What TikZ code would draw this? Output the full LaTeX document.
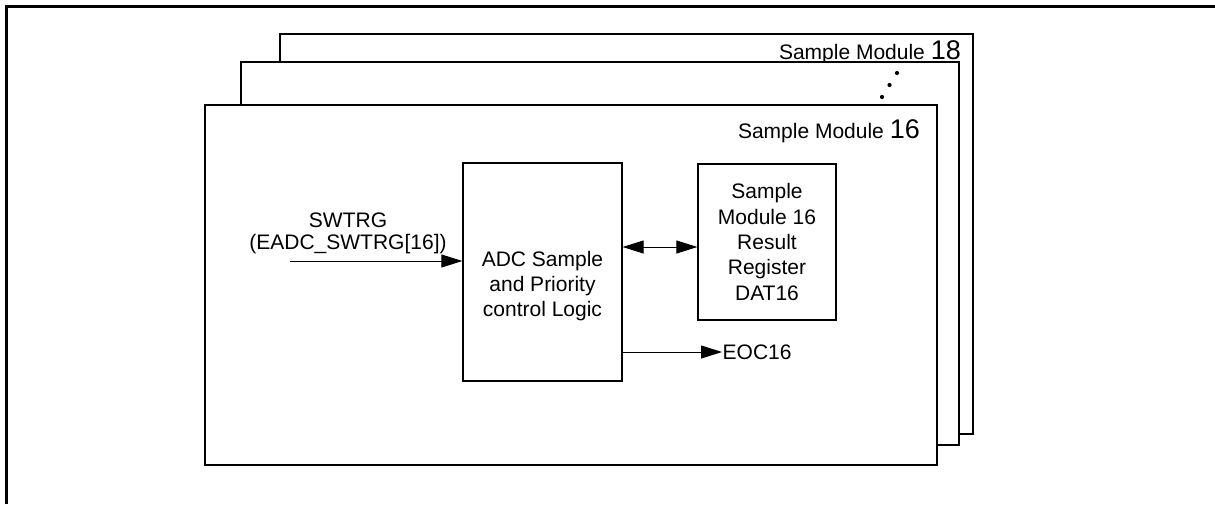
\documentclass[tikz,border=0pt]{standalone}
\usepackage{fontspec}
\setmainfont{Liberation Sans}
\usetikzlibrary{arrows.meta}
\begin{document}
\begin{tikzpicture}[x=1pt,y=-1pt,
  txt/.style={font=\fontsize{21}{25}\selectfont, inner sep=0pt},
  modbox/.style={draw, line width=1.4pt, fill=white},
  blk/.style={draw, line width=1.3pt, fill=white, inner sep=0pt},
  sig/.style={line width=0.9pt, -{Triangle[length=21pt,width=13pt]}},
  bisig/.style={line width=0.9pt, {Triangle[length=21pt,width=13pt]}-{Triangle[length=21pt,width=13pt]}},
  dot/.style={circle, fill=black, inner sep=0pt, minimum size=4.2pt}]
\useasboundingbox (0,0) rectangle (1215,504);
% outer frame
\draw[line width=2.6pt] (6.5,504) -- (6.5,6.5) -- (1215,6.5);
% stacked sample modules
\draw[modbox] (280,34) rectangle (973,434);
\node[txt, anchor=base east] (lab18) at (961,59) {Sample Module \fontsize{27}{27}\selectfont 18};
\draw[modbox] (241,62) rectangle (959,445);
\node[dot] (d1) at (897,73) {};
\node[dot] (d2) at (889.5,85) {};
\node[dot] (d3) at (882,97) {};
\draw[modbox] (205,105) rectangle (937,465);
\node[txt, anchor=base east] (lab16) at (920,138) {Sample Module \fontsize{27}{27}\selectfont 16};
% blocks
\node[blk, minimum width=159pt, minimum height=218pt] (adc) at (542.5,272) {};
\node[txt, align=center] (adctxt) at (542.5,286) {ADC Sample\\and Priority\\control Logic};
\node[blk, minimum width=138pt, minimum height=156pt, align=center, font=\fontsize{21}{25.3}\selectfont] (res) at (767,242) {Sample\\Module 16\\Result\\Register\\DAT16};
% input signal
\node[txt, anchor=base] (sw1) at (348,227) {SWTRG};
\node[txt, anchor=base] (sw2) at (348,249) {(EADC\_SWTRG[16])};
\coordinate (in) at (290,261);
\draw[sig] (in) -- (in -| adc.west);
% bidirectional
\coordinate (bi) at (622,247);
\draw[bisig] (bi -| adc.east) -- (bi -| res.west);
% EOC
\coordinate (eo) at (722,352);
\draw[sig] (eo -| adc.east) -- (eo);
\node[txt, anchor=base west] (eoc) at (722.5,359) {EOC16};
\end{tikzpicture}
\end{document}
